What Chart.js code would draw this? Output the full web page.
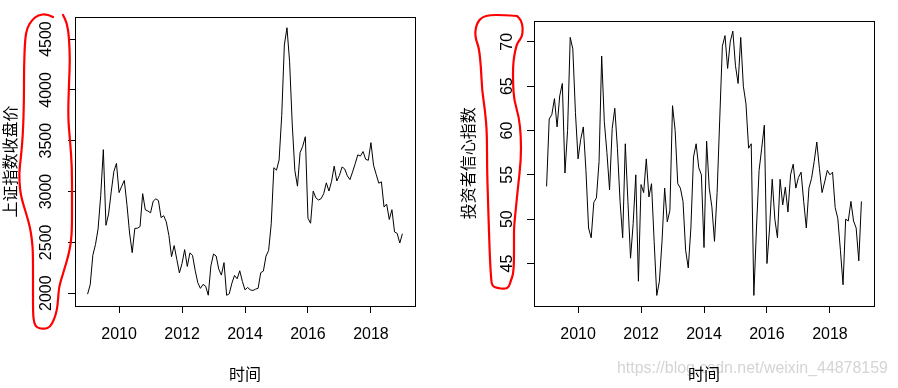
<!DOCTYPE html>
<html>
<head>
<meta charset="utf-8">
<script src="https://cdn.jsdelivr.net/npm/chart.js@4"></script>
<style>
  body { margin: 0; background: #fff; }
  #wrap { position: relative; width: 898px; height: 388px; }
  canvas { position: absolute; top: 0; }
</style>
</head>
<body>
<div id="wrap">
  <canvas id="left" width="449" height="388" style="left:0"></canvas>
  <canvas id="right" width="449" height="388" style="left:449px"></canvas>
</div>
<script>
// monthly series, Jan 2009 .. Jan 2019
const startYear = 2009;
const freq = 12;

const xTicks = [2010, 2012, 2014, 2016, 2018];
const szTicks = [2000, 2500, 3000, 3500, 4000, 4500];
const confTicks = [45, 50, 55, 60, 65, 70];

// 上证指数收盘价
const szClose = [
  1990.7, 2082.9, 2373.2, 2477.6, 2632.9, 2959.4, 3412.1, 2667.7, 2779.4, 2995.9, 3195.3, 3277.1,
  2989.3, 3051.9, 3109.1, 2870.6, 2592.2, 2398.4, 2637.5, 2638.8, 2655.7, 2978.8, 2820.2, 2808.1,
  2790.7, 2905.1, 2928.1, 2911.5, 2743.5, 2762.1, 2701.7, 2567.3, 2359.2, 2468.3, 2333.4, 2199.4,
  2292.6, 2428.5, 2262.8, 2396.3, 2372.2, 2225.4, 2103.6, 2047.5, 2086.2, 2068.9, 1980.1, 2269.1,
  2385.4, 2365.6, 2236.6, 2177.9, 2300.6, 1979.2, 1993.8, 2098.4, 2174.7, 2141.6, 2220.5, 2116.0,
  2033.1, 2056.3, 2033.3, 2026.4, 2039.2, 2048.3, 2201.6, 2217.2, 2363.9, 2420.2, 2682.8, 3234.7,
  3210.4, 3310.3, 3747.9, 4441.7, 4611.7, 4277.2, 3663.7, 3206.0, 3052.8, 3382.6, 3445.4, 3539.2,
  2737.6, 2688.0, 3003.9, 2938.3, 2916.6, 2929.6, 2979.3, 3085.5, 3004.7, 3100.5, 3250.0, 3103.6,
  3159.2, 3241.7, 3222.5, 3154.7, 3117.2, 3192.4, 3273.0, 3360.8, 3348.9, 3393.3, 3317.2, 3307.2,
  3480.8, 3259.4, 3168.9, 3082.2, 3095.5, 2847.4, 2876.4, 2725.3, 2821.4, 2602.8, 2588.2, 2493.9,
  2584.6
];

// 投资者信心指数
const confidence = [
  53.7, 61.3, 61.8, 63.6, 60.4, 63.9, 65.3, 55.2, 60.0, 70.5, 69.2, 62.0,
  56.8, 59.0, 60.4, 55.5, 49.0, 47.9, 51.9, 52.4, 56.5, 68.4, 61.0, 57.5,
  53.3, 60.2, 62.5, 58.0, 52.0, 47.9, 58.5, 52.0, 45.6, 49.5, 55.0, 43.0,
  53.9, 53.0, 56.8, 52.5, 54.0, 47.5, 41.4, 43.0, 47.5, 53.5, 49.7, 51.0,
  62.8, 60.0, 54.0, 53.5, 52.0, 46.5, 44.5, 49.0, 57.0, 58.5, 55.8, 55.0,
  46.8, 58.8, 53.5, 51.4, 47.5, 53.0, 61.3, 69.5, 70.7, 67.0, 70.0, 71.2,
  67.3, 65.3, 70.5, 65.0, 63.0, 58.0, 58.5, 41.4, 49.0, 55.5, 58.0, 60.6,
  45.0, 49.0, 54.5, 50.0, 47.9, 54.5, 51.6, 53.6, 50.8, 55.0, 56.2, 53.5,
  54.7, 55.3, 52.0, 49.0, 53.5, 54.6, 56.5, 58.7, 55.7, 53.0, 54.2, 55.5,
  55.0, 55.3, 51.3, 50.1, 46.5, 42.6, 50.0, 49.8, 52.0, 49.8, 49.0, 45.3,
  52.0
];

const tickFont = { family: "'Liberation Sans', Arial, sans-serif", size: 16 };
const cjkFont = { family: "'Noto Sans CJK SC', sans-serif", size: 16 };

// hand drawn red outlines (page pixels)
const redMarks = {
  left: { ox: 0, pts: [[53,17],[47,14],[38,15],[32,20],[27,28],[25,40],[24,67],[24,100],[23,133],[21,157],[19,173],[20,190],[22,200],[26,213],[30,227],[32,240],[33,253],[33,283],[33,313],[34,323],[37,328],[45,329],[50,327],[54,320],[57,310],[58,300],[59,287],[62,277],[65,267],[68,257],[71,243],[72,227],[72,200],[72,167],[70,140],[68,117],[69,83],[70,60],[69,37],[67,23],[63,15]] },
  right: { ox: 449, pts: [[517,16],[503,15],[490,15],[482,17],[477,23],[475,32],[476,40],[479,48],[481,67],[482,90],[485,110],[487,133],[487,167],[488,200],[489,233],[490,260],[491,277],[492,286],[497,288],[505,289],[509,287],[511,280],[513,275],[514,263],[514,240],[514,227],[516,207],[518,187],[521,160],[521,137],[519,117],[514,100],[513,83],[513,67],[514,57],[516,47],[518,42],[522,37],[523,28],[521,20],[517,16]] }
};

const boxPlugin = {
  id: 'rbox',
  afterDatasetsDraw(chart) {
    const { ctx, chartArea: a } = chart;
    ctx.save();
    ctx.strokeStyle = '#000';
    ctx.lineWidth = 1;
    ctx.strokeRect(Math.round(a.left) + 0.5, Math.round(a.top) + 0.5,
      Math.round(a.right - a.left), Math.round(a.bottom - a.top));
    ctx.restore();
  }
};

const markPlugin = {
  id: 'redmark',
  beforeDraw(chart) {
    if (chart.canvas.id !== 'right') return;
    // blog watermark
    const ctx = chart.ctx;
    const txt = 'https://blog.csdn.net/weixin_44878159';
    ctx.save();
    ctx.font = "16px 'Liberation Sans', Arial";
    const size = 16 * 271 / ctx.measureText(txt).width;
    ctx.font = size.toFixed(2) + "px 'Liberation Sans', Arial";
    ctx.fillStyle = 'rgba(170,170,170,0.5)';
    ctx.textBaseline = 'middle';
    ctx.fillText(txt, 168, 369);
    ctx.restore();
  },
  afterDraw(chart) {
    const m = redMarks[chart.canvas.id];
    if (!m) return;
    const p = m.pts, ox = m.ox, ctx = chart.ctx;
    ctx.save();
    ctx.strokeStyle = '#f00';
    ctx.lineWidth = 2.2;
    ctx.lineJoin = 'round';
    ctx.lineCap = 'round';
    ctx.beginPath();
    ctx.moveTo(p[0][0] - ox, p[0][1]);
    for (let i = 1; i < p.length - 1; i++) {
      const mx = (p[i][0] + p[i + 1][0]) / 2, my = (p[i][1] + p[i + 1][1]) / 2;
      ctx.quadraticCurveTo(p[i][0] - ox, p[i][1], mx - ox, my);
    }
    ctx.lineTo(p[p.length - 1][0] - ox, p[p.length - 1][1]);
    ctx.stroke();
    ctx.restore();
  }
};

// R style 4% axis extension
function ext(lo, hi) {
  const d = (hi - lo) * 0.04;
  return [lo - d, hi + d];
}

function makeChart(id, values, yTicks, yTitle, g) {
  const pts = values.map((v, i) => ({ x: startYear + i / freq, y: v }));
  const [xMin, xMax] = ext(pts[0].x, pts[pts.length - 1].x);
  const [yMin, yMax] = ext(Math.min(...values), Math.max(...values));
  return new Chart(document.getElementById(id), {
    type: 'line',
    data: {
      datasets: [{
        data: pts,
        borderColor: '#000',
        borderWidth: 1,
        pointRadius: 0,
        tension: 0,
        fill: false
      }]
    },
    options: {
      responsive: false,
      animation: false,
      devicePixelRatio: 1,
      layout: { padding: { top: 17, right: g.right, left: 0, bottom: 0 } },
      plugins: { legend: { display: false }, tooltip: { enabled: false } },
      scales: {
        x: {
          type: 'linear',
          min: xMin,
          max: xMax,
          afterBuildTicks: s => { s.ticks = xTicks.map(v => ({ value: v })); },
          afterFit: s => { s.height = 82; },
          grid: { drawOnChartArea: false, color: '#000', tickLength: 7 },
          border: { display: false },
          ticks: {
            color: '#000', font: tickFont, padding: 12,
            maxRotation: 0, autoSkip: false,
            callback: v => String(v)
          },
          title: {
            display: true, text: '时间', color: '#000', font: cjkFont,
            padding: { top: 0, bottom: 4 }
          }
        },
        y: {
          type: 'linear',
          min: yMin,
          max: yMax,
          afterBuildTicks: s => { s.ticks = yTicks.map(v => ({ value: v })); },
          afterFit: s => { s.width = g.left; },
          grid: { drawOnChartArea: false, color: '#000', tickLength: 7 },
          border: { display: false },
          ticks: {
            color: '#000', font: tickFont, padding: g.tickPad,
            minRotation: 90, maxRotation: 90, crossAlign: 'center', autoSkip: false,
            callback: v => String(v)
          },
          title: {
            display: true, text: yTitle, color: '#000', font: cjkFont,
            padding: { top: g.titlePad, bottom: 0 }
          }
        }
      }
    },
    plugins: [boxPlugin, markPlugin]
  });
}

makeChart('left', szClose, szTicks, '上证指数收盘价', { left: 75, right: 34, tickPad: 4, titlePad: 0 });
makeChart('right', confidence, confTicks, '投资者信心指数', { left: 85, right: 24, tickPad: 11, titlePad: 9 });
</script>
</body>
</html>
